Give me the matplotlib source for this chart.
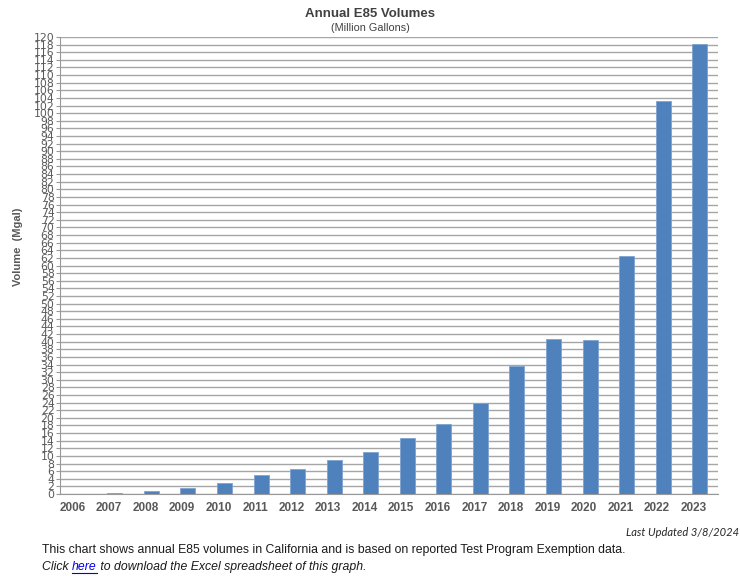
import matplotlib
matplotlib.use("Agg")
import matplotlib.pyplot as plt
import matplotlib.transforms as mtransforms
import numpy as np

years = ["2006", "2007", "2008", "2009", "2010", "2011", "2012", "2013", "2014",
         "2015", "2016", "2017", "2018", "2019", "2020", "2021", "2022", "2023"]
volumes = [0.0, 0.25, 0.8, 1.65, 2.9, 5.0, 6.5, 8.8, 11.0,
           14.7, 18.5, 23.8, 33.7, 40.6, 40.4, 62.4, 103.3, 118.2]
y_ticks = list(range(0, 121, 2))

plt.rcParams['font.family'] = ['Liberation Sans', 'DejaVu Sans']
fig = plt.figure(figsize=(7.4, 5.76), dpi=100)
W, H = 740, 576
ax = fig.add_axes([60 / W, 1 - 494 / H, 658 / W, (494 - 37) / H])

x = np.arange(len(years))
ax.bar(x, volumes, width=0.41, color="#4F81BD", edgecolor="#7FA3D0", linewidth=0.6, zorder=3)
ax.set_xlim(-0.5, len(years) - 0.5)
ax.set_ylim(0, 120)
ax.set_yticks(y_ticks)
ax.set_yticklabels([str(t) for t in y_ticks], family=['Liberation Sans Narrow', 'DejaVu Sans'],
                   fontsize=7.8, color="#595959")
ax.set_xticks(x)
ax.set_xticklabels(years, fontsize=8.5, fontweight="bold", color="#595959")
ax.tick_params(axis='x', length=0, pad=6)
ax.tick_params(axis='y', length=3, width=0.8, color="#999999", pad=1)
shift = mtransforms.ScaledTranslation(-6 / 100, 0, fig.dpi_scale_trans)
for lbl in ax.get_xticklabels():
    lbl.set_transform(lbl.get_transform() + shift)
ax.yaxis.grid(True, color="#a6a6a6", linewidth=1.0, zorder=0)
ax.set_axisbelow(True)
for s in ["top", "right"]:
    ax.spines[s].set_visible(False)
ax.spines["left"].set_color("#999999")
ax.spines["bottom"].set_color("#999999")

fig.text(370 / W, 1 - 14 / H, "Annual E85 Volumes", ha="center", va="center",
         fontsize=9.5, fontweight="bold", color="#404040")
fig.text(370 / W, 1 - 28 / H, "(Million Gallons)", ha="center", va="center",
         fontsize=7.8, color="#404040")
fig.text(18 / W, 1 - 247 / H, "Volume  (Mgal)", ha="center", va="center", rotation=90,
         fontsize=8, fontweight="bold", color="#595959")

fig.text(739 / W, 1 - 533 / H, "Last Updated 3/8/2024", ha="right", va="center",
         fontsize=8, style="italic", family=['Lato', 'DejaVu Sans'], color="#262626")
fig.text(42 / W, 1 - 550 / H, "This chart shows annual E85 volumes in California and is based on reported Test Program Exemption data.",
         ha="left", va="center", fontsize=8.8, color="#1a1a1a")

fig.canvas.draw()
r = fig.canvas.get_renderer()
t1 = fig.text(42 / W, 1 - 567 / H, "Click ", ha="left", va="center", fontsize=8.8,
              style="italic", color="#1a1a1a")
bb = t1.get_window_extent(renderer=r)
t2 = fig.text(bb.x1 / W, 1 - 567 / H, "here", ha="left", va="center", fontsize=8.8,
              style="italic", color="#0000EE")
bb2 = t2.get_window_extent(renderer=r)
fig.add_artist(plt.Line2D([bb2.x0 / W, bb2.x1 / W], [(576 - 573) / H, (576 - 573) / H],
                          color="#0000EE", linewidth=0.8, transform=fig.transFigure))
fig.text(bb2.x1 / W, 1 - 567 / H, " to download the Excel spreadsheet of this graph.",
         ha="left", va="center", fontsize=8.8, style="italic", color="#1a1a1a")

fig.savefig("out.png", dpi=100)
